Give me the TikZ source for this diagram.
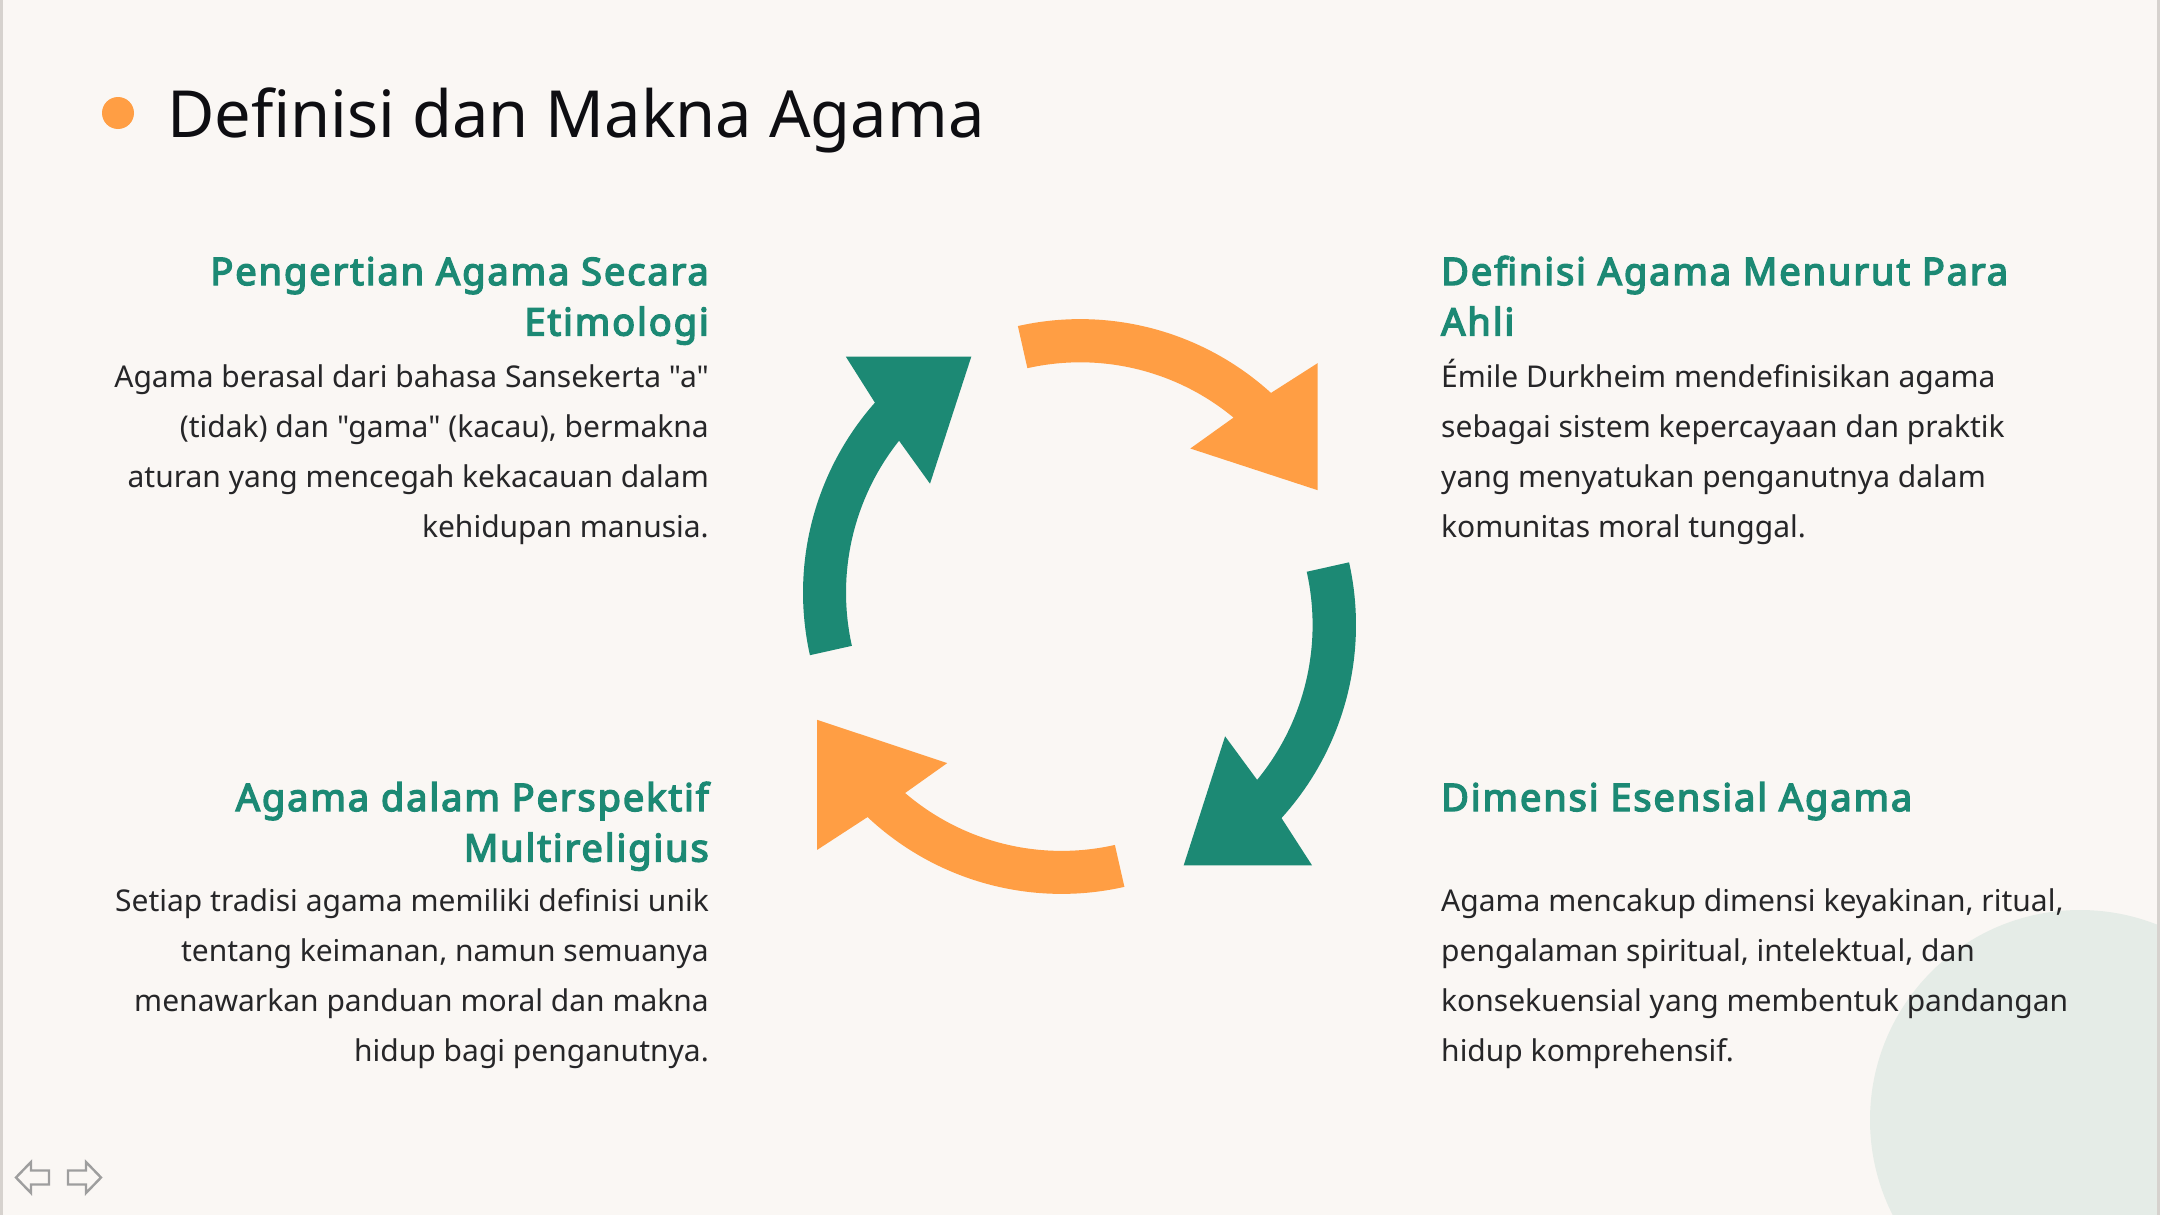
\documentclass[tikz,border=0pt]{standalone}
\usepackage{fontspec}
\setmainfont{Noto Sans}[Ligatures=TeXOff]
\newfontfamily\headfont{Noto Sans}[FakeBold=3.8,LetterSpace=5]
\definecolor{bgc}{RGB}{250,247,244}
\definecolor{greenc}{RGB}{28,137,116}
\definecolor{orangec}{RGB}{255,158,68}
\definecolor{circc}{RGB}{229,236,231}
\definecolor{bodyc}{RGB}{38,38,40}
\definecolor{titlec}{RGB}{14,14,18}
\definecolor{edgec}{RGB}{214,210,206}
\definecolor{navc}{RGB}{158,158,158}
\begin{document}
\begin{tikzpicture}[x=1pt,y=-1pt,
  headL/.style={anchor=base east,inner sep=0pt,align=right,text=greenc,font=\headfont\fontsize{38}{50.5}\selectfont},
  headR/.style={anchor=base west,inner sep=0pt,align=left,text=greenc,font=\headfont\fontsize{38}{50.5}\selectfont},
  bodyL/.style={anchor=base east,inner sep=0pt,align=right,text=bodyc,font=\fontsize{30}{50}\selectfont},
  bodyR/.style={anchor=base west,inner sep=0pt,align=left,text=bodyc,font=\fontsize{30}{50}\selectfont},
  navarrow/.style={draw=navc,line width=2.4pt,line join=miter}]
\useasboundingbox (0,0) rectangle (2160,1215);
\fill[bgc] (0,0) rectangle (2160,1215);
% decorative circle
\begin{scope}
\clip (0,0) rectangle (2160,1215);
\fill[circc] (2080,1120) circle[radius=210];
\end{scope}
% slide edges
\fill[edgec] (0,0) rectangle (2.5,1215);
\fill[edgec] (2157,0) rectangle (2160,1215);
% title
\fill[orangec] (118,113) circle[radius=16];
\node[anchor=base west,inner sep=0pt,text=titlec,font=\fontsize{65}{70}\selectfont] (title) at (167,137) {Definisi dan Makna Agama};
% texts (anchor = baseline of the last line)
\node[headL] (h1) at (709,335.5) {Pengertian Agama Secara\\Etimologi};
\node[bodyL] (b1) at (709,537) {Agama berasal dari bahasa Sansekerta "a"\\(tidak) dan "gama" (kacau), bermakna\\aturan yang mencegah kekacauan dalam\\kehidupan manusia.};
\node[headR] (h2) at (1441,335.5) {Definisi Agama Menurut Para\\Ahli};
\node[bodyR] (b2) at (1441,537) {Émile Durkheim mendefinisikan agama\\sebagai sistem kepercayaan dan praktik\\yang menyatukan penganutnya dalam\\komunitas moral tunggal.};
\node[headL] (h3) at (709,861.5) {Agama dalam Perspektif\\Multireligius};
\node[bodyL] (b3) at (709,1061) {Setiap tradisi agama memiliki definisi unik\\tentang keimanan, namun semuanya\\menawarkan panduan moral dan makna\\hidup bagi penganutnya.};
\node[headR] (h4) at (1441,811) {Dimensi Esensial Agama};
\node[bodyR] (b4) at (1441,1061) {Agama mencakup dimensi keyakinan, ritual,\\pengalaman spiritual, intelektual, dan\\konsekuensial yang membentuk pandangan\\hidup komprehensif.};
% cycle arrows
\begin{scope}[shift={(1080.2,602.6)}]
\fill[orangec] (-102.7:283.5) arc[start angle=-102.7,end angle=-47.7,radius=283.5]
  -- (237.5,-239.5) -- (237.5,-112.4) -- (110.1,-154.1)
  -- (-50.35:240.3) arc[start angle=-50.35,end angle=-102.7,radius=240.3] -- cycle;
\end{scope}
\begin{scope}[shift={(1068.6,625)}]
\fill[greenc] (-12.6:287.4) arc[start angle=-12.6,end angle=42.2,radius=287.4]
  -- (243.4,240.3) -- (115.1,240.3) -- (156.5,111.3)
  -- (39.4:244) arc[start angle=39.4,end angle=-12.6,radius=244] -- cycle;
\end{scope}
\begin{scope}[shift={(1061.6,610.4)}]
\fill[orangec] (77.2:283.5) arc[start angle=77.2,end angle=133.2,radius=283.5]
  -- (-244.5,239.5) -- (-244.5,109.4) -- (-114.4,152.7)
  -- (130.6:240.5) arc[start angle=130.6,end angle=77.2,radius=240.5] -- cycle;
\end{scope}
\begin{scope}[shift={(1090,592.6)}]
\fill[greenc] (167.4:287) arc[start angle=167.4,end angle=221.45,radius=287]
  -- (-244.2,-236) -- (-118.7,-236) -- (-160,-108.9)
  -- (218.5:244) arc[start angle=218.5,end angle=167.4,radius=244] -- cycle;
\end{scope}
% navigation arrows
\draw[navarrow] (16,1177.5) -- (31,1162) -- (31,1170.5) -- (49,1170.5) -- (49,1184.5) -- (31,1184.5) -- (31,1193) -- cycle;
\draw[navarrow] (101,1177.5) -- (86,1162) -- (86,1170.5) -- (68,1170.5) -- (68,1184.5) -- (86,1184.5) -- (86,1193) -- cycle;
\end{tikzpicture}
\end{document}
